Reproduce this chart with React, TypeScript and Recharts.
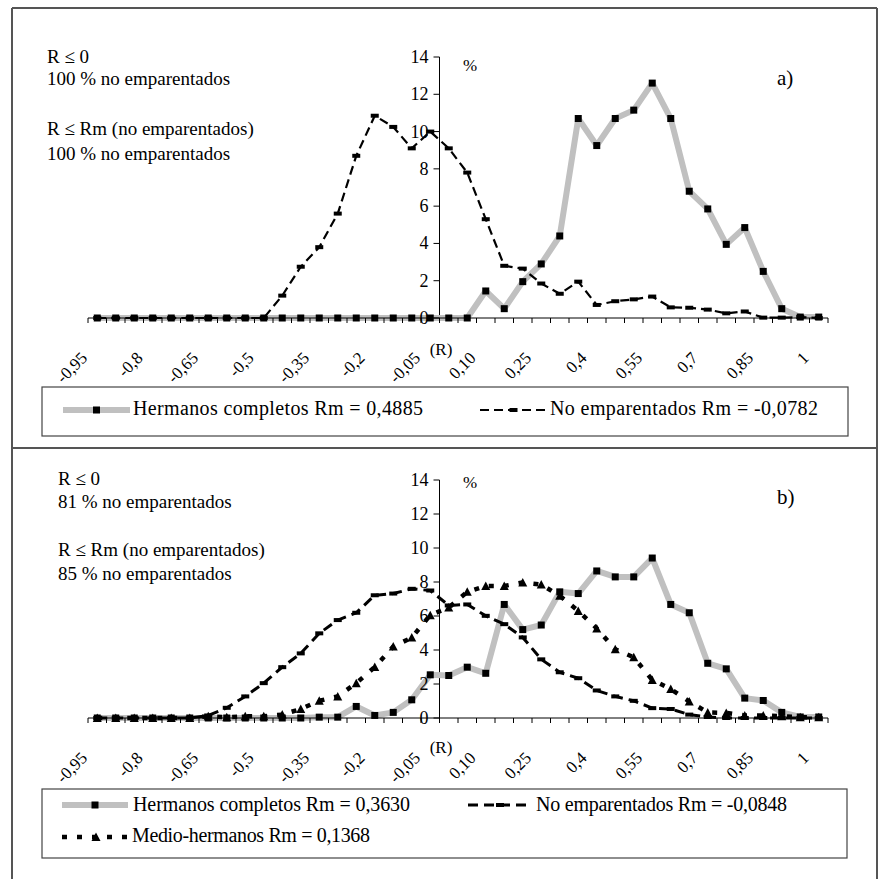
import React from 'react';
import { LineChart, Line, XAxis, YAxis, ReferenceLine } from 'recharts';

// categories of R (every 0,05)
const categories = [
  '-0,95', '-0,9', '-0,85', '-0,8', '-0,75', '-0,7', '-0,65', '-0,6', '-0,55', '-0,5',
  '-0,45', '-0,4', '-0,35', '-0,3', '-0,25', '-0,2', '-0,15', '-0,1', '-0,05', '0',
  '0,05', '0,10', '0,15', '0,20', '0,25', '0,3', '0,35', '0,4', '0,45', '0,5',
  '0,55', '0,6', '0,65', '0,7', '0,75', '0,8', '0,85', '0,9', '0,95', '1',
];
const yTicks = [0, 2, 4, 6, 8, 10, 12, 14];

// panel a)
const hermanosA = [
  0, 0, 0, 0, 0, 0, 0, 0, 0, 0,
  0, 0, 0, 0, 0, 0, 0, 0, 0, 0,
  0, 1.45, 0.5, 1.95, 2.9, 4.4, 10.7, 9.25, 10.7, 11.15,
  12.6, 10.7, 6.8, 5.85, 3.95, 4.85, 2.5, 0.5, 0.05, 0.05,
];
const noEmparentadosA = [
  0, 0, 0, 0, 0, 0, 0, 0, 0, 0,
  1.2, 2.75, 3.8, 5.6, 8.7, 10.85, 10.25, 9.1, 10.0, 9.1,
  7.8, 5.3, 2.8, 2.65, 1.85, 1.3, 1.95, 0.7, 0.9, 1.0,
  1.15, 0.57, 0.55, 0.45, 0.25, 0.35, 0.02, 0.02, 0.05, 0,
];

// panel b)
const hermanosB = [
  0, 0, 0, 0, 0, 0, 0, 0, 0, 0,
  0, 0, 0.05, 0.05, 0.68, 0.15, 0.33, 1.07, 2.54, 2.5,
  2.99, 2.63, 6.68, 5.2, 5.47, 7.42, 7.32, 8.65, 8.3, 8.3,
  9.41, 6.68, 6.19, 3.22, 2.89, 1.17, 1.03, 0.33, 0.06, 0.06,
];
const noEmparentadosB = [
  0, 0, 0, 0, 0, 0, 0.15, 0.6, 1.27, 2.05,
  2.99, 3.8, 4.98, 5.76, 6.19, 7.22, 7.32, 7.6, 7.5, 6.62,
  6.68, 6.01, 5.52, 4.74, 3.45, 2.69, 2.34, 1.62, 1.27, 1.01,
  0.58, 0.53, 0.2, 0.06, 0, 0, 0, 0, 0, 0,
];
const medioHermanosB = [
  0, 0, 0, 0, 0, 0, 0.1, 0.05, 0.1, 0.1,
  0.2, 0.53, 1.01, 1.27, 2.05, 3.0, 4.2, 4.73, 6.05, 6.5,
  7.42, 7.77, 7.77, 7.97, 7.85, 7.19, 6.3, 5.27, 4.04, 3.57,
  2.24, 1.7, 0.97, 0.33, 0.3, 0.15, 0.15, 0.1, 0.05, 0.05,
];

const FONT = '"Liberation Serif", "Times New Roman", serif';
const PLOT_LEFT = 88;
const PLOT_RIGHT = 828;
const CELL = (PLOT_RIGHT - PLOT_LEFT) / categories.length;
const Y_CROSS = 19; // value axis crosses between -0,05 and 0
const Y_AXIS_W = 20;

const xTicks = [
  ...categories.map((_, i) => i - 0.5).concat(categories.length - 0.5),
  ...categories.map((_, i) => i).filter((i) => i % 3 === 0),
];

const rowsA = categories.map((r, i) => ({ i, r, hermanos: hermanosA[i], noEmp: noEmparentadosA[i] }));
const rowsB = categories.map((r, i) => ({
  i, r, hermanos: hermanosB[i], noEmp: noEmparentadosB[i], medio: medioHermanosB[i],
}));

type Marker = 'square' | 'bar' | 'triangle';

const drawMarker = (kind: Marker, cx: number, cy: number, key?: any) => {
  if (kind === 'square') return <rect key={key} x={cx - 3.5} y={cy - 3.5} width={7} height={7} fill="#000" />;
  if (kind === 'bar') return <rect key={key} x={cx - 4} y={cy - 2} width={8} height={4} fill="#000" />;
  return <path key={key} d={`M${cx},${cy - 4.5} L${cx + 4.5},${cy + 4} L${cx - 4.5},${cy + 4} Z`} fill="#000" />;
};

const dotOf = (kind: Marker) => (props: any) => {
  const { cx, cy, index } = props;
  if (cx == null || cy == null) return <g key={index} />;
  return drawMarker(kind, cx, cy, index);
};

const seriesA = [
  { key: 'hermanos', name: 'Hermanos completos Rm = 0,4885', color: '#c0c0c0', width: 6, dash: undefined, marker: 'square' as Marker },
  { key: 'noEmp', name: 'No emparentados Rm = -0,0782', color: '#000', width: 2.2, dash: '9 5', marker: 'bar' as Marker },
];
const seriesB = [
  { key: 'hermanos', name: 'Hermanos completos  Rm = 0,3630', color: '#c0c0c0', width: 6, dash: undefined, marker: 'square' as Marker },
  { key: 'noEmp', name: 'No emparentados Rm = -0,0848', color: '#000', width: 3, dash: '10 6', marker: 'bar' as Marker },
  { key: 'medio', name: 'Medio-hermanos Rm = 0,1368', color: '#000', width: 4.5, dash: '5 10', marker: 'triangle' as Marker },
];

const XTick = (props: any) => {
  const { x, y, payload } = props;
  const v = payload.value;
  if (!Number.isInteger(v)) {
    return <line x1={x} y1={y} x2={x} y2={y + 5} stroke="#000" strokeWidth={1} />;
  }
  const ax = x - 9;
  const ay = y + 41;
  return (
    <text x={ax} y={ay} transform={`rotate(-45 ${ax} ${ay})`} textAnchor="end"
      fontSize={17} fontFamily={FONT} fill="#000">
      {categories[v]}
    </text>
  );
};

const YTick = (props: any) => {
  const { y, payload } = props;
  const ax = PLOT_LEFT + CELL * Y_CROSS;
  return (
    <g>
      <line x1={ax - 6} y1={y} x2={ax} y2={y} stroke="#000" strokeWidth={1} />
      <text x={ax - 11} y={y + 6} textAnchor="end" fontSize={18} fontFamily={FONT} fill="#000">
        {payload.value}
      </text>
    </g>
  );
};

const Panel = ({ rows, series, top, height, margin }: any) => (
  <div style={{ position: 'absolute', left: 0, top }}>
    <LineChart width={880} height={height} data={rows} margin={margin}>
      <XAxis type="number" dataKey="i" domain={[-0.5, categories.length - 0.5]} ticks={xTicks}
        interval={0} tickLine={false} tickSize={0} tickMargin={0} height={30}
        axisLine={{ stroke: '#000', strokeWidth: 1 }} tick={<XTick />} />
      <YAxis type="number" domain={[0, 14]} ticks={yTicks} interval={0} width={Y_AXIS_W}
        axisLine={false} tickLine={false} tick={<YTick />} />
      <ReferenceLine x={Y_CROSS - 0.5} stroke="#000" strokeWidth={1} />
      {series.map((s: any) => (
        <Line key={s.key} type="linear" dataKey={s.key} stroke={s.color} strokeWidth={s.width}
          strokeDasharray={s.dash} strokeLinejoin="round" dot={dotOf(s.marker)} activeDot={false}
          isAnimationActive={false} />
      ))}
    </LineChart>
  </div>
);

const LegendItem = ({ s, x1, x2, y, textX, textW, baseline }: any) => (
  <g>
    <line x1={x1} y1={y} x2={x2} y2={y} stroke={s.color} strokeWidth={s.width} strokeDasharray={s.dash} />
    {drawMarker(s.marker, (x1 + x2) / 2, y)}
    <text x={textX} y={baseline} fontSize={20} fontFamily={FONT} fill="#000"
      textLength={textW} lengthAdjust="spacing">
      {s.name}
    </text>
  </g>
);

const NoteText = ({ x, lines }: any) => (
  <>
    {lines.map((l: any) => (
      <text key={l.y} x={x} y={l.y} fontSize={19} fontFamily={FONT} fill="#000">{l.t}</text>
    ))}
  </>
);

export default function App() {
  return (
    <div style={{ position: 'absolute', left: 0, top: 0, width: 880, height: 879, background: '#fff', overflow: 'hidden' }}>
      <Panel rows={rowsA} series={seriesA} top={0} height={448}
        margin={{ top: 57, right: 880 - PLOT_RIGHT, bottom: 100, left: PLOT_LEFT - Y_AXIS_W }} />
      <Panel rows={rowsB} series={seriesB} top={448} height={431}
        margin={{ top: 32, right: 880 - PLOT_RIGHT, bottom: 131, left: PLOT_LEFT - Y_AXIS_W }} />
      <svg width={880} height={879} style={{ position: 'absolute', left: 0, top: 0, pointerEvents: 'none' }}>
        {/* frames */}
        <line x1={12} y1={8} x2={12} y2={879} stroke="#555" strokeWidth={2} />
        <line x1={877} y1={8} x2={877} y2={879} stroke="#555" strokeWidth={2} />
        <line x1={12} y1={8} x2={877} y2={8} stroke="#555" strokeWidth={2} />
        <line x1={12} y1={448} x2={877} y2={448} stroke="#555" strokeWidth={2} />

        {/* panel a notes */}
        <NoteText x={47} lines={[
          { y: 62.5, t: 'R ≤ 0' },
          { y: 84.5, t: '100 % no emparentados' },
          { y: 134.5, t: 'R ≤ Rm (no emparentados)' },
          { y: 159.5, t: '100 % no emparentados' },
        ]} />
        <text x={463} y={71} fontSize={17} fontFamily={FONT} fill="#000">%</text>
        <text x={777} y={85} fontSize={21} fontFamily={FONT} fill="#000">a)</text>
        <text x={441} y={355} textAnchor="middle" fontSize={17} fontFamily={FONT} fill="#000">(R)</text>

        {/* panel a legend */}
        <rect x={42} y={387} width={806} height={49} fill="none" stroke="#444" strokeWidth={1.2} />
        <LegendItem s={seriesA[0]} x1={63} x2={130} y={410} textX={133} textW={290} baseline={415} />
        <LegendItem s={seriesA[1]} x1={480} x2={547} y={410} textX={550} textW={268} baseline={415} />

        {/* panel b notes */}
        <NoteText x={58} lines={[
          { y: 484.5, t: 'R ≤ 0' },
          { y: 507.5, t: '81 % no emparentados' },
          { y: 556, t: 'R ≤ Rm (no emparentados)' },
          { y: 579.5, t: '85 % no emparentados' },
        ]} />
        <text x={463} y={488} fontSize={17} fontFamily={FONT} fill="#000">%</text>
        <text x={777} y={504} fontSize={21} fontFamily={FONT} fill="#000">b)</text>
        <text x={441} y={753} textAnchor="middle" fontSize={17} fontFamily={FONT} fill="#000">(R)</text>

        {/* panel b legend */}
        <rect x={42} y={789} width={805} height={69} fill="none" stroke="#444" strokeWidth={1.2} />
        <LegendItem s={seriesB[0]} x1={62} x2={128} y={805} textX={133} textW={277} baseline={811} />
        <LegendItem s={seriesB[1]} x1={468} x2={532} y={805} textX={536} textW={251} baseline={811} />
        <LegendItem s={seriesB[2]} x1={62} x2={130} y={837} textX={132} textW={238} baseline={842} />
      </svg>
    </div>
  );
}
